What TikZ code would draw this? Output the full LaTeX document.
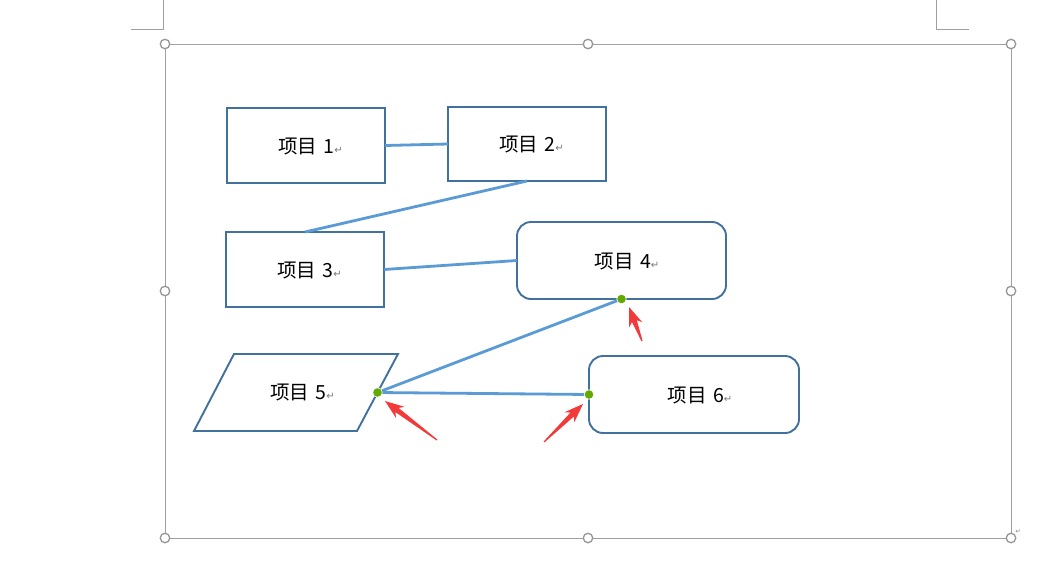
\documentclass[tikz,border=0pt]{standalone}
\usepackage{fontspec}
\newfontfamily\cjk{Noto Sans CJK SC}
\newfontfamily\dejavu{DejaVu Sans}
\usetikzlibrary{calc}
\definecolor{boxblue}{RGB}{65,113,156}
\definecolor{linkblue}{RGB}{91,155,213}
\definecolor{handlegray}{RGB}{150,150,150}
\definecolor{framegray}{RGB}{160,160,160}
\definecolor{dotgreen}{RGB}{98,170,0}
\definecolor{arrred}{RGB}{242,58,58}
\definecolor{retgray}{RGB}{120,120,120}
\newcommand\retmark{{\dejavu\fontsize{10}{10}\selectfont\textcolor{retgray}{↵}}}
\newcommand\tarrow[2]{%
  \fill[arrred] (#2) -- ($(#2)!19pt!(#1)!7pt!90:(#2)$) -- ($(#2)!15pt!(#1)!2.6pt!90:(#2)$)
    -- ($(#1)!0.6pt!90:(#2)$) -- ($(#1)!0.6pt!-90:(#2)$)
    -- ($(#2)!15pt!(#1)!2.6pt!-90:(#2)$) -- ($(#2)!19pt!(#1)!7pt!-90:(#2)$) -- cycle;}
\begin{document}
\begin{tikzpicture}[x=1pt,y=-1pt,
  box/.style={draw=boxblue, line width=1.9pt, fill=white, inner sep=0pt, outer sep=0pt},
  sqbox/.style={box, minimum width=158pt, minimum height=75pt},
  rbox/.style={box, rounded corners=14pt, minimum width=209pt, minimum height=77pt},
  lbl/.style={font=\cjk\fontsize{19.5}{22}\selectfont, inner sep=0pt},
  link/.style={draw=linkblue, line width=2.8pt},
  frame/.style={draw=framegray, line width=0.9pt},
  corner/.style={draw=framegray, line width=0.9pt},
  handle/.style={circle, draw=handlegray, line width=1.3pt, fill=white, minimum size=9.5pt, inner sep=0pt},
  gdot/.style={circle, fill=dotgreen, draw=white, line width=0.6pt, minimum size=9.5pt, inner sep=0pt}]
\useasboundingbox (0,0) rectangle (1049,570);
\fill[white] (0,0) rectangle (1049,570);
% page corner marks
\draw[corner] (131,29) -- (163,29) -- (163,0);
\draw[corner] (969,29) -- (936,29) -- (936,0);
% selection frame
\draw[frame] (165,44) rectangle (1011,538);
\foreach \n/\p in {h1/{(165,44)},h2/{(588,44)},h3/{(1011,44)},h4/{(165,291)},h5/{(1011,291)},h6/{(165,538)},h7/{(588,538)},h8/{(1011,538)}}
  \node[handle] (\n) at \p {};
\node[font=\dejavu\fontsize{6}{6}\selectfont, text=retgray, inner sep=0pt] (endmark) at (1018,532) {↵};
% boxes
\node[sqbox] (b1) at (306,145.5) {};
\node[sqbox, minimum height=74pt] (b2) at (527,144) {};
\node[sqbox] (b3) at (305,269.5) {};
\node[rbox] (b4) at (621.5,260.5) {};
\node[rbox, minimum width=210pt] (b6) at (694,394.5) {};
\draw[box, line join=miter] (234,354) -- (398,354) -- (357,431) -- (194,431) -- cycle;
\coordinate (p5r) at (377.5,392.5);
% labels
\node[lbl] (t1) at ([xshift=4.5pt,yshift=-1pt]b1.center) {项目\hspace{2pt} 1\retmark};
\node[lbl] (t2) at ([xshift=4.5pt,yshift=-1pt]b2.center) {项目\hspace{2pt} 2\retmark};
\node[lbl] (t3) at ([xshift=4.5pt,yshift=-1pt]b3.center) {项目\hspace{2pt} 3\retmark};
\node[lbl] (t4) at ([xshift=5.5pt,yshift=-1pt]b4.center) {项目\hspace{2pt} 4\retmark};
\node[lbl] (t5) at (302.5,393) {项目\hspace{2pt} 5\retmark};
\node[lbl] (t6) at ([xshift=6pt,yshift=-1pt]b6.center) {项目\hspace{2pt} 6\retmark};
% connectors
\draw[link] (b1.east) -- (b2.west);
\draw[link] (b2.south) -- (b3.north);
\draw[link] (b3.east) -- (b4.west);
\draw[link] (b4.south) -- (p5r);
\draw[link] (p5r) -- (b6.west);
% connection points
\node[gdot] (g1) at (b4.south) {};
\node[gdot] (g2) at (p5r) {};
\node[gdot] (g3) at (b6.west) {};
% red pointer arrows
\coordinate (a1t) at (437,440); \coordinate (a1p) at (385,401);
\coordinate (a2t) at (544,442); \coordinate (a2p) at (583,404);
\coordinate (a3t) at (642,341); \coordinate (a3p) at (629,307);
\tarrow{a1t}{a1p}
\tarrow{a2t}{a2p}
\tarrow{a3t}{a3p}
\end{tikzpicture}
\end{document}
